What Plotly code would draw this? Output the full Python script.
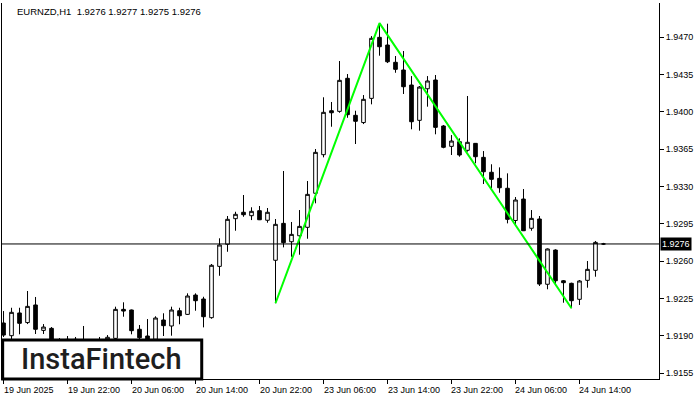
import plotly.graph_objects as go

# ---- data (EURNZD H1, bars from 19 Jun 14:00 to 24 Jun 17:00) ----
opens = [1.92019, 1.91900, 1.92113, 1.92023, 1.92188, 1.91950, 1.91969, 1.91822, 1.91853, 1.91866,
         1.91840, 1.91840, 1.91820, 1.91859, 1.91875, 1.92147, 1.92141, 1.91960, 1.91897, 1.91866,
         1.92047, 1.91991, 1.92134, 1.92100, 1.92281, 1.92244, 1.92069, 1.92550, 1.92757, 1.92997,
         1.93057, 1.93025, 1.93072, 1.92982, 1.92607, 1.92953, 1.92781, 1.92837, 1.92916, 1.93235,
         1.93597, 1.94009, 1.94003, 1.94313, 1.93966, 1.93898, 1.94125, 1.94697, 1.94625, 1.94463,
         1.94391, 1.94250, 1.93919, 1.94215, 1.94297, 1.93866, 1.93675, 1.93719, 1.93638, 1.93703,
         1.93572, 1.93432, 1.93375, 1.93282, 1.92980, 1.93181, 1.92907, 1.92994, 1.92382, 1.92703,
         1.92415, 1.92391, 1.92241, 1.92419, 1.92513, 1.92760]
highs = [1.92131, 1.92162, 1.92162, 1.92319, 1.92263, 1.92009, 1.91981, 1.91878, 1.91897, 1.91888,
         1.91991, 1.91850, 1.91888, 1.91906, 1.92172, 1.92213, 1.92145, 1.92000, 1.92056, 1.92082,
         1.92110, 1.92172, 1.92162, 1.92297, 1.92297, 1.92265, 1.92572, 1.92813, 1.93022, 1.93062,
         1.93219, 1.93104, 1.93116, 1.93097, 1.92994, 1.93444, 1.92966, 1.93078, 1.93350, 1.93650,
         1.94135, 1.94091, 1.94475, 1.94353, 1.94009, 1.94156, 1.94709, 1.94830, 1.94825, 1.94522,
         1.94569, 1.94334, 1.94241, 1.94334, 1.94344, 1.93875, 1.93781, 1.93750, 1.94147, 1.93706,
         1.93631, 1.93507, 1.93478, 1.93422, 1.93200, 1.93275, 1.93078, 1.93022, 1.92718, 1.92710,
         1.92422, 1.92397, 1.92422, 1.92600, 1.92788, 1.92770]
lows = [1.91888, 1.91859, 1.91913, 1.92009, 1.91916, 1.91916, 1.91803, 1.91800, 1.91810, 1.91800,
        1.91790, 1.91780, 1.91790, 1.91841, 1.91850, 1.92078, 1.91913, 1.91850, 1.91831, 1.91850,
        1.91897, 1.91900, 1.92007, 1.92094, 1.92134, 1.91978, 1.92059, 1.92462, 1.92687, 1.92884,
        1.93015, 1.92984, 1.92984, 1.92959, 1.92204, 1.92728, 1.92640, 1.92659, 1.92809, 1.93141,
        1.93572, 1.93859, 1.93990, 1.93943, 1.93697, 1.93884, 1.94069, 1.94525, 1.94456, 1.94365,
        1.94166, 1.93835, 1.93822, 1.94047, 1.93788, 1.93657, 1.93594, 1.93578, 1.93625, 1.93516,
        1.93322, 1.93282, 1.93240, 1.92953, 1.92947, 1.92881, 1.92884, 1.92366, 1.92335, 1.92384,
        1.92209, 1.92157, 1.92188, 1.92350, 1.92453, 1.92750]
closes = [1.91906, 1.92119, 1.92016, 1.92175, 1.91960, 1.91981, 1.91841, 1.91853, 1.91866, 1.91840,
          1.91860, 1.91820, 1.91845, 1.91885, 1.92147, 1.92131, 1.91947, 1.91881, 1.91859, 1.92066,
          1.91994, 1.92141, 1.92087, 1.92272, 1.92228, 1.92078, 1.92560, 1.92750, 1.92991, 1.93038,
          1.93034, 1.93066, 1.92987, 1.93057, 1.92944, 1.92772, 1.92850, 1.92925, 1.93225, 1.93619,
          1.93994, 1.93990, 1.94294, 1.93972, 1.93910, 1.94116, 1.94688, 1.94609, 1.94468, 1.94397,
          1.94234, 1.93906, 1.94231, 1.94288, 1.93853, 1.93666, 1.93725, 1.93594, 1.93713, 1.93578,
          1.93437, 1.93366, 1.93287, 1.92991, 1.93172, 1.92884, 1.93000, 1.92384, 1.92713, 1.92415,
          1.92397, 1.92228, 1.92413, 1.92522, 1.92775, 1.92760]

tick_bars = [0, 8, 16, 24, 32, 40, 48, 56, 64, 72]
tick_labels = ["19 Jun 2025", "19 Jun 22:00", "20 Jun 06:00", "20 Jun 14:00", "20 Jun 22:00",
               "23 Jun 06:00", "23 Jun 14:00", "23 Jun 22:00", "24 Jun 06:00", "24 Jun 14:00"]
price_ticks = [1.9155, 1.9190, 1.9225, 1.9260, 1.9295, 1.9330, 1.9365, 1.9400, 1.9435, 1.9470]
pattern_bars = [34, 47, 71]
last_price = 1.9276
title_text = "EURNZD,H1  1.9276 1.9277 1.9275 1.9276"
logo_text = "InstaFintech"

bars = list(range(len(opens)))
pattern_prices = [lows[pattern_bars[0]], highs[pattern_bars[1]], lows[pattern_bars[2]]]

FONT = "Liberation Sans"

fig = go.Figure()
fig.add_trace(go.Candlestick(
    x=bars, open=opens, high=highs, low=lows, close=closes,
    increasing=dict(line=dict(color="black", width=1), fillcolor="white"),
    decreasing=dict(line=dict(color="black", width=1), fillcolor="black"),
    whiskerwidth=0, showlegend=False, hoverinfo="skip"))

fig.add_trace(go.Scatter(
    x=pattern_bars, y=pattern_prices, mode="lines",
    line=dict(color="#00FF00", width=2), showlegend=False, hoverinfo="skip"))

fig.add_shape(type="line", xref="paper", x0=0, x1=1, yref="y", y0=last_price, y1=last_price,
              line=dict(color="black", width=1), layer="above")

# logo box
fig.add_shape(type="rect", xref="paper", yref="paper", x0=0.001, x1=0.304, y0=0.0, y1=0.104,
              line=dict(color="black", width=3), fillcolor="white", layer="above")
fig.add_annotation(xref="paper", yref="paper", x=0.152, y=0.052, text=logo_text, showarrow=False,
                   font=dict(family="Roboto", size=29, color="#1e1e1e", weight=500),
                   xanchor="center", yanchor="middle")

# title
fig.add_annotation(xref="paper", yref="paper", x=0, y=1, xshift=13, yshift=-1, text=title_text,
                   showarrow=False, xanchor="left", yanchor="top",
                   font=dict(family=FONT, size=9.5, color="black"))

# x labels left-aligned at ticks
for b, t in zip(tick_bars, tick_labels):
    fig.add_annotation(x=b, xref="x", y=0, yref="paper", yshift=-4, xshift=-2, text=t,
                       showarrow=False, xanchor="left", yanchor="top",
                       font=dict(family=FONT, size=9, color="black"))

# current price label
fig.add_annotation(xref="paper", x=1, xshift=1, yref="y", y=last_price, text="1.9276",
                   showarrow=False, xanchor="left", yanchor="middle", bgcolor="black",
                   font=dict(family=FONT, size=9, color="white"), borderpad=1)

fig.update_layout(
    width=700, height=400,
    margin=dict(l=2, r=41, t=3, b=21),
    paper_bgcolor="white", plot_bgcolor="white",
    xaxis=dict(range=[-0.19, 81.94], showgrid=False, zeroline=False, showline=True,
               linecolor="black", linewidth=1, ticks="outside", ticklen=4, tickcolor="black",
               tickvals=tick_bars, ticktext=[""] * len(tick_bars), rangeslider=dict(visible=False),
               fixedrange=True),
    yaxis=dict(side="right", range=[1.91494, 1.95019], showgrid=False, zeroline=False,
               showline=True, mirror=True, linecolor="black", linewidth=1, ticks="outside",
               ticklen=4, tickcolor="black", tickvals=price_ticks,
               ticktext=[f"{v:.4f}" for v in price_ticks],
               tickfont=dict(family=FONT, size=9, color="black")),
    font=dict(family=FONT, size=9, color="black"),
    boxgap=0.35,
)

fig.write_html("out.html", config={"displayModeBar": False},
               post_script="document.body.style.margin='0px';document.body.style.overflow='hidden';")
